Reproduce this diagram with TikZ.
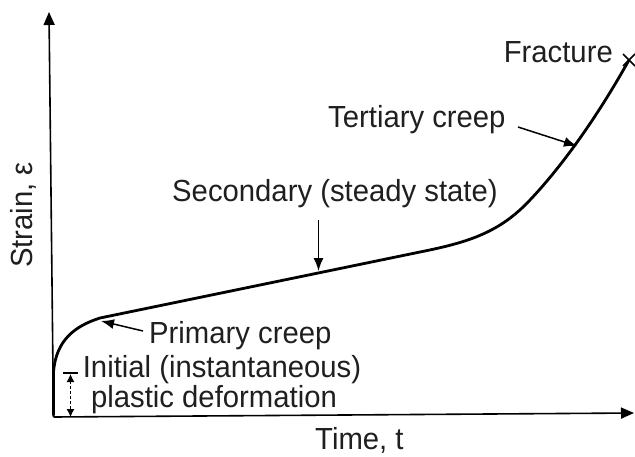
\documentclass[tikz,border=0pt]{standalone}
\usepackage{fontspec}
\setmainfont{Liberation Sans}[FakeStretch=0.96]
\usetikzlibrary{arrows.meta}
\begin{document}
\begin{tikzpicture}[x=1pt,y=-1pt,
  lbl/.style={font=\fontsize{30.5}{30}\selectfont, text=black!88, inner sep=0pt},
  axisline/.style={line width=1.6pt, -{Triangle[length=13pt,width=11pt]}},
  pointer/.style={line width=1.5pt, -{Latex[length=13pt,width=10pt]}},
  creep/.style={line width=2.8pt, line cap=round, line join=round}]
\useasboundingbox (0,0) rectangle (635,456);

% axes
\coordinate (O) at (53.5,417);
\coordinate (ytip) at (49,12);
\coordinate (xtip) at (634,413);
\draw[axisline] (O) -- (ytip);
\draw[axisline] (O) -- (xtip);

% creep curve: instantaneous, primary, secondary, tertiary, fracture
\coordinate (frac) at (629,60);
\draw[creep] (53.5,415) -- (53.5,372)
  .. controls (56,340) and (75,326) .. (100,318)
  -- (420,252)
  .. controls (470,242) and (500,232) .. (530,200)
  .. controls (565,163) and (600,112) .. (frac);
\draw[line width=1.5pt] ([shift={(-6,-6)}]frac) -- ([shift={(6,6)}]frac)
                        ([shift={(-6,6)}]frac) -- ([shift={(6,-6)}]frac);

% labels
\node[lbl, anchor=base east] (fracture) at (613,62) {Fracture};
\node[lbl, anchor=base west] (tert) at (328,127) {Tertiary creep};
\node[lbl, anchor=base west] (sec) at (172,201) {Secondary (steady state)};
\node[lbl, anchor=base west] (prim) at (149,343) {Primary creep};
\node[lbl, anchor=base] (init1) at (222,377) {Initial (instantaneous)};
\node[lbl, anchor=base] (init2) at (214,407) {plastic deformation};
\node[lbl, anchor=base west] (time) at (315,449) {Time, t};
\node[lbl, rotate=90] (strain) at (23,215) {Strain, ε};

% pointers onto the curve
\coordinate (terttail) at (518,127);
\coordinate (tertpt) at (577,146);
\coordinate (sectail) at (318.5,220);
\coordinate (secpt) at (318.5,271);
\coordinate (primtail) at (143,331);
\coordinate (primpt) at (101,321);
\draw[pointer] (terttail) -- (tertpt);
\draw[pointer] (sectail) -- (secpt);
\draw[pointer] (primtail) -- (primpt);

% initial deformation marker
\coordinate (bartop) at (70.5,373);
\coordinate (barbot) at (70.5,417);
\draw[line width=1.4pt] ([xshift=-7.5pt]bartop) -- ([xshift=7.5pt]bartop);
\draw[line width=1.1pt, dash pattern=on 3pt off 2pt,
      {Latex[length=8pt,width=8pt]}-{Latex[length=8pt,width=8pt]}]
  ([yshift=-1pt]bartop) -- (barbot);
\end{tikzpicture}
\end{document}
